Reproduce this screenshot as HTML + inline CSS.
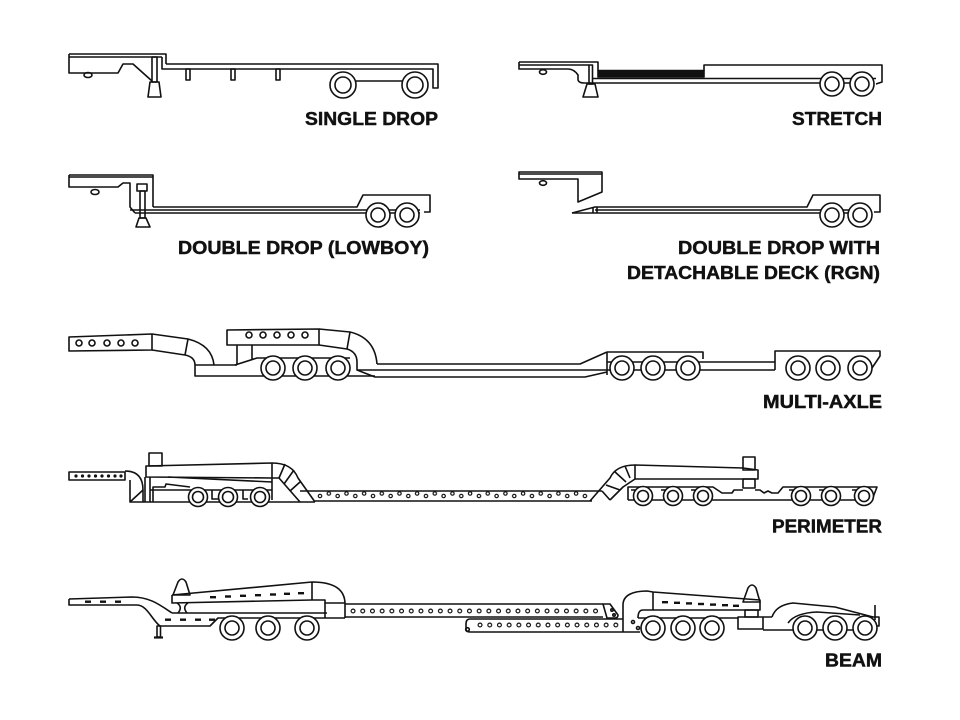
<!DOCTYPE html>
<html><head><meta charset="utf-8"><style>
html,body{margin:0;padding:0;background:#fff;}
svg{display:block}
text{font-family:"Liberation Sans",Arial,sans-serif;font-weight:bold;font-size:18px;fill:#111;stroke:#111;stroke-width:0.45}
</style></head><body>
<svg width="960" height="720" viewBox="0 0 960 720" xmlns="http://www.w3.org/2000/svg">
<defs>
<g id="w13"><circle r="13" fill="#fff"/><circle r="8" fill="#fff"/></g>
<g id="w12"><circle r="12" fill="#fff"/><circle r="7" fill="#fff"/></g>
<g id="w10"><circle r="9.5" fill="#fff"/><circle r="5.5" fill="#fff"/></g>
<pattern id="pdots" patternUnits="userSpaceOnUse" x="316" y="490" width="17.66" height="12">
<circle cx="4" cy="6" r="1.7" fill="none" stroke="#111" stroke-width="1.2"/>
<circle cx="12.83" cy="3.5" r="1.7" fill="none" stroke="#111" stroke-width="1.2"/>
</pattern>
<pattern id="bdots1" patternUnits="userSpaceOnUse" x="348.2" y="605" width="9.7" height="12">
<circle cx="4.85" cy="6" r="1.9" fill="none" stroke="#111" stroke-width="1.2"/>
</pattern>
<pattern id="bdots2" patternUnits="userSpaceOnUse" x="475.2" y="619" width="9.7" height="12">
<circle cx="4.85" cy="6" r="1.9" fill="none" stroke="#111" stroke-width="1.2"/>
</pattern>
</defs>

<g fill="none" stroke="#111" stroke-width="1.6" stroke-linejoin="round">

<!-- SINGLE DROP -->
<path d="M69,54 H166 V64"/>
<path d="M69,57 H162"/>
<path d="M69,54 V73 H118 L123,64 H133 L152,81"/>
<rect x="152" y="57" width="5" height="25"/>
<path d="M150,82 H159 L161,97 H148 Z"/>
<ellipse cx="88" cy="75" rx="4" ry="2.5"/>
<path d="M162,57 V69 H433 V88 H438 V64 H166"/>
<rect x="186" y="69" width="4" height="11"/>
<rect x="231" y="69" width="4" height="11"/>
<rect x="276" y="69" width="4" height="11"/>
<path d="M343,81 H415"/>
<use href="#w13" x="343" y="85"/><use href="#w13" x="415" y="85"/>

<!-- STRETCH -->
<path d="M519,62 H598 V71"/>
<path d="M519,65 H589"/>
<path d="M519,62 V69 H568 Q574,69 578,75 V80 Q579,83 584,83"/>
<rect x="589" y="65" width="3.5" height="19"/>
<path d="M587,84 H595 L598,97 H583 Z"/>
<ellipse cx="543" cy="72" rx="3.5" ry="2.3"/>
<rect x="598" y="70.5" width="106" height="6.5" fill="#111"/>
<path d="M704,71 V65 H882 V82 L876,84"/>
<path d="M592,78.5 H876"/>
<path d="M584,83 H872"/>
<use href="#w12" x="832" y="84"/><use href="#w12" x="862" y="84"/>

<!-- DOUBLE DROP (LOWBOY) -->
<path d="M69,175 H153 V207"/>
<path d="M69,177 H153"/>
<path d="M69,175 V187 H118 L123,183 H130 V207 L135,213"/>
<ellipse cx="95" cy="192" rx="4" ry="2.5"/>
<rect x="137" y="184" width="10" height="7"/>
<rect x="140" y="191" width="5" height="27"/>
<path d="M139,218 H146 L150,227 H136 Z"/>
<path d="M153,207 H357 L363,195 H430 V212 H424"/>
<path d="M130,210 H420"/>
<path d="M135,213 H420"/>
<use href="#w12" x="378" y="215"/><use href="#w12" x="407" y="215"/>

<!-- RGN -->
<path d="M519,172 H602 V192 L578,202 V179 H519 Z"/>
<path d="M519,174 H602"/>
<ellipse cx="543" cy="183" rx="3.5" ry="2.3"/>
<path d="M572,213 L595,207 H807 L813,195 H880 V212 H874"/>
<path d="M595,210 H870"/>
<path d="M572,213 H870"/>
<path d="M593,207.5 V213 M597,207 V213"/>
<use href="#w12" x="832" y="215"/><use href="#w12" x="860" y="215"/>

<!-- MULTI-AXLE -->
<path d="M69,337 L152,334 V350 L69,351 Z"/>
<circle cx="79" cy="343" r="3"/><circle cx="92" cy="343" r="3"/><circle cx="107" cy="343" r="3"/><circle cx="121" cy="343" r="3"/><circle cx="135" cy="343" r="3"/>
<path d="M152,334 L188,339 Q212,345 214,365"/>
<path d="M152,350 L185,355 Q195,357 195,365"/>
<path d="M188,339 L185,355"/>
<path d="M195,365 H237 M195,365 V376 H375"/>
<path d="M227,330 L319,329 V345 H227 Z"/>
<circle cx="249" cy="335" r="3"/><circle cx="263" cy="335" r="3"/><circle cx="277" cy="335" r="3"/><circle cx="291" cy="335" r="3"/><circle cx="305" cy="335" r="3"/>
<path d="M319,329 L350,332 Q375,338 377,364"/>
<path d="M319,345 L347,349 Q357,352 357,362 V370 L375,377 H585 L607,372"/>
<path d="M350,332 L347,349"/>
<path d="M237,345 V365 M252,345 V359"/>
<path d="M235,365 L257,358 H350"/>
<path d="M377,364 H580 L607,352"/>
<path d="M357,370 H607"/>
<path d="M607,352 H703 V359"/>
<path d="M607,352 V375"/>
<path d="M607,362 H775 M607,370 H775"/>
<path d="M775,370 V351 H880 V356 L872,368"/>
<use href="#w12" x="273" y="368"/><use href="#w12" x="305" y="368"/><use href="#w12" x="338" y="368"/>
<use href="#w12" x="622" y="368"/><use href="#w12" x="653" y="368"/><use href="#w12" x="688" y="368"/>
<use href="#w12" x="798" y="368"/><use href="#w12" x="828" y="368"/><use href="#w12" x="860" y="368"/>

<!-- PERIMETER -->
<rect x="69" y="472" width="56" height="8"/>
<g fill="#111" stroke="none">
<circle cx="76" cy="476" r="1.6"/><circle cx="82.5" cy="476" r="1.6"/><circle cx="89" cy="476" r="1.6"/><circle cx="95.5" cy="476" r="1.6"/><circle cx="102" cy="476" r="1.6"/><circle cx="108.5" cy="476" r="1.6"/><circle cx="115" cy="476" r="1.6"/><circle cx="121" cy="476" r="1.6"/>
</g>
<path d="M125,471 Q143,471 143,490 V502"/>
<path d="M130,480 V502 H315"/>
<path d="M130,502 L143,490"/>
<path d="M145,477 V502 M150,477 V502"/>
<rect x="149" y="453" width="13" height="13"/>
<path d="M146,466 L272,463 V478 L146,477 Z"/>
<path d="M168,477 L272,482"/>
<path d="M272,478 V490"/>
<path d="M153,502 V487 H165 L166,484 L190,487 M150,490 H272"/>
<path d="M212,490 V499 H218 M243,490 V499 H248 M272,490 V500"/>
<path d="M272,463 Q292,463 298,478 L315,502"/>
<path d="M272,478 H279 L300,502"/>
<path d="M285,464 L279,478 M294,470 L284,484 M300,482 L290,491"/>
<use href="#w10" x="198" y="497"/><use href="#w10" x="228" y="497"/><use href="#w10" x="260" y="497"/>
<path d="M300,491 H602"/>
<path d="M315,501 H592"/>
<rect x="316" y="490" width="272" height="12" fill="url(#pdots)" stroke="none"/>
<path d="M590,501 L610,478 Q616,465 635,465"/>
<path d="M602,491 L610,500 M635,479 L623,487 L610,500"/>
<path d="M606,485 L620,490 M614,471 L626,482 M625,466 L630,478"/>
<path d="M635,465 L743,468 L758,470 V479 H635 Z"/>
<rect x="743" y="457" width="12" height="13"/>
<rect x="743" y="479" width="12" height="9"/>
<path d="M628,500 V487 H713 L722,493 H732 L734,490 H743"/>
<path d="M755,490 H760 L764,493 L768,491 L772,493 L778,493 L783,487 H877 L872,500 H628"/>
<path d="M631,490 H636 V499 M661,490 H666 V499 M691,490 H696 V499 M789,490 H794 V499 M819,490 H824 V499 M852,490 H857 V499"/>
<use href="#w10" x="643" y="496"/><use href="#w10" x="673" y="496"/><use href="#w10" x="703" y="496"/>
<use href="#w10" x="801" y="496"/><use href="#w10" x="831" y="496"/><use href="#w10" x="864" y="496"/>

<!-- BEAM -->
<path d="M69,599 L132,597 C150,597 160,605 172,613"/>
<path d="M69,599 V605 H137 C147,605 152,620 160,626 H210 L218,618 H345"/>
<path d="M172,613 H327"/>
<rect x="157" y="626" width="3.5" height="11"/>
<path d="M154,637.5 H163" stroke-width="2.2"/>
<g fill="#111" stroke="none">
<rect x="85" y="600.5" width="6" height="2.4"/><rect x="100" y="600.5" width="6" height="2.4"/><rect x="115" y="600.5" width="6" height="2.4"/>
<rect x="165" y="618.5" width="6" height="2.4"/><rect x="180" y="618.5" width="6" height="2.4"/><rect x="195" y="618.5" width="6" height="2.4"/><rect x="209" y="618.5" width="6" height="2.4"/>
<rect x="210" y="596" width="6" height="2.4"/><rect x="225" y="595.3" width="6" height="2.4"/><rect x="240" y="594.6" width="6" height="2.4"/><rect x="255" y="594" width="6" height="2.4"/><rect x="270" y="593.3" width="6" height="2.4"/><rect x="284" y="592.6" width="6" height="2.4"/><rect x="298" y="592" width="6" height="2.4"/>
<rect x="662" y="601" width="6" height="2.4"/><rect x="674" y="601.6" width="6" height="2.4"/><rect x="686" y="602.2" width="6" height="2.4"/><rect x="698" y="602.8" width="6" height="2.4"/><rect x="710" y="603.4" width="6" height="2.4"/><rect x="722" y="604" width="6" height="2.4"/><rect x="733" y="604.6" width="6" height="2.4"/>
</g>
<path d="M173,595 L178,582 Q182,576 186,582 L190,595 Z"/>
<path d="M177,603 Q183,607 178,613 M188,603 Q182,607 187,613"/>
<path d="M172,595 L312,582 C335,582 345,590 345,604 V618"/>
<path d="M172,595 V603 L312,600 H325 V618"/>
<path d="M312,582 V600"/>
<path d="M325,603 H345"/>
<use href="#w12" x="232" y="628"/><use href="#w12" x="268" y="628"/><use href="#w12" x="307" y="628"/>
<path d="M345,604 H603 M345,617 H603"/>
<rect x="348" y="605" width="252.2" height="12" fill="url(#bdots1)" stroke="none"/>
<path d="M603,604 H610 L618,615 Q618,618 615,618 H607 Z"/>
<circle cx="612" cy="610" r="1.2"/><circle cx="614" cy="615" r="1.2"/>
<path d="M470,619 H623 M470,632 H623 M470,619 Q466,619 466,624 V629 Q466,632 470,632"/>
<rect x="475.2" y="619" width="145.5" height="12" fill="url(#bdots2)" stroke="none"/>
<circle cx="467.5" cy="629.5" r="1.8"/>
<path d="M623,632 V605 C623,595 633,591 647,591 L653,592 L760,600 V610 H643"/>
<path d="M653,592 V610"/>
<path d="M638,618 Q638,610 643,610"/>
<path d="M638,618 H738 M623,632 H640"/>
<circle cx="633" cy="622" r="1.5"/><circle cx="638" cy="628" r="1.5"/>
<path d="M743,602 L748,588 Q752,582 756,588 L760,602 Z"/>
<rect x="745" y="610" width="13" height="7"/>
<rect x="738" y="617" width="25" height="12"/>
<path d="M763,630 H875"/>
<path d="M772,617 Q776,605 793,603 L835,607 L873,617"/>
<path d="M763,617 H772 M788,623 Q795,613 817,612 L860,615"/>
<path d="M875,605 V620"/>
<rect x="869" y="617" width="10" height="9"/>
<use href="#w12" x="653" y="628"/><use href="#w12" x="683" y="628"/><use href="#w12" x="712" y="628"/>
<use href="#w12" x="805" y="628"/><use href="#w12" x="835" y="628"/><use href="#w12" x="865" y="628"/>
</g>

<!-- LABELS -->
<text x="438" y="125" text-anchor="end" textLength="133" lengthAdjust="spacingAndGlyphs">SINGLE DROP</text>
<text x="882" y="125" text-anchor="end" textLength="90" lengthAdjust="spacingAndGlyphs">STRETCH</text>
<text x="429" y="254" text-anchor="end" textLength="251" lengthAdjust="spacingAndGlyphs">DOUBLE DROP (LOWBOY)</text>
<text x="880" y="254" text-anchor="end" textLength="202" lengthAdjust="spacingAndGlyphs">DOUBLE DROP WITH</text>
<text x="880" y="279" text-anchor="end" textLength="253" lengthAdjust="spacingAndGlyphs">DETACHABLE DECK (RGN)</text>
<text x="882" y="408" text-anchor="end" textLength="119" lengthAdjust="spacingAndGlyphs">MULTI-AXLE</text>
<text x="882" y="532.5" text-anchor="end" textLength="110" lengthAdjust="spacingAndGlyphs">PERIMETER</text>
<text x="882" y="666.5" text-anchor="end" textLength="57" lengthAdjust="spacingAndGlyphs">BEAM</text>
</svg>
</body></html>
